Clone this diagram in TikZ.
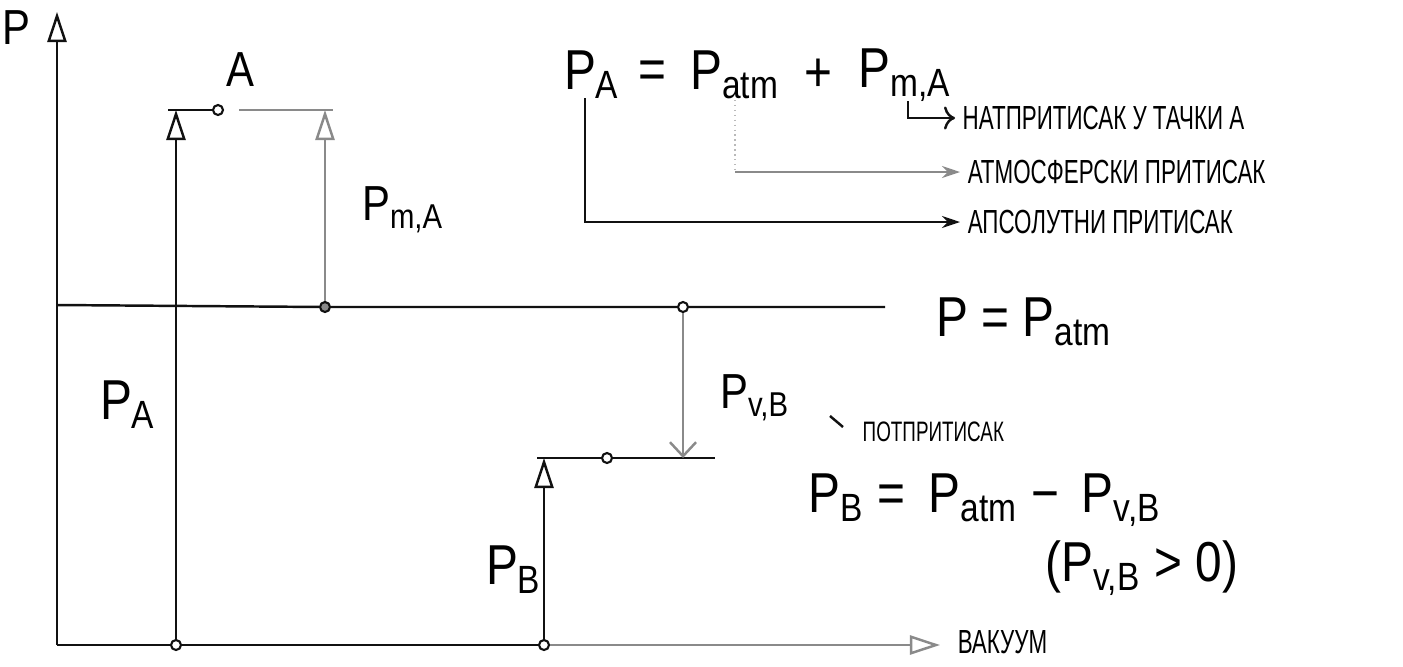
\documentclass[tikz,border=0pt]{standalone}
\usepackage{fontspec}
\setmainfont{Liberation Sans}
\newfontfamily\handfont[FakeStretch=0.67]{Liberation Sans}
\newfontfamily\formfont[FakeStretch=0.85]{Liberation Sans}
\usetikzlibrary{arrows.meta,positioning}
\definecolor{inkBlack}{HTML}{111111}
\definecolor{inkGrey}{HTML}{8A8A8A}
\tikzset{
  solidline/.style={draw=inkBlack,line width=0.7pt},
  faintline/.style={draw=inkGrey,line width=0.7pt},
  hollowarrow/.style={-{Triangle[open,length=3mm,width=1.9mm,line width=0.7pt]}},
  barbarrow/.style={-{Straight Barb[length=1.4mm,width=2.6mm]}},
  notearrow/.style={-{Stealth[length=1.8mm,width=1.2mm]},line width=0.6pt},
  marker/.style={circle,draw=inkBlack,fill=white,line width=0.6pt,inner sep=0pt,minimum size=1mm},
  bigtext/.style={font=\formfont\fontsize{16}{18}\selectfont,inner sep=1pt},
  midtext/.style={font=\formfont\fontsize{14}{16}\selectfont,inner sep=1pt},
  notetext/.style={font=\handfont\fontsize{9.5}{11}\selectfont,anchor=west,inner sep=2pt},
  smallnote/.style={notetext,font=\handfont\fontsize{8}{9}\selectfont}
}
\begin{document}
\begin{tikzpicture}[x=0.01cm,y=-0.01cm]
  \useasboundingbox (0,0) rectangle (1403,666);
  % axes
  \coordinate (orig) at (57,645);
  \coordinate (ytip) at (57,12);
  \coordinate (xtip) at (940,645);
  \node[midtext] (plabel) at (16,28) {P};
  \draw[solidline,hollowarrow] (orig) -- (ytip);
  \node[marker] (baseA) at (176,645) {};
  \node[marker] (baseB) at (544,645) {};
  \draw[solidline] (orig) -- (baseA) -- (baseB);
  \draw[faintline,hollowarrow] (baseB) -- (xtip);
  \node[notetext] (vac) at (950,642) {ВАКУУМ};
  % atmospheric level
  \node[marker,fill=inkGrey] (atmA) at (325,307) {};
  \node[marker] (atmB) at (683,307) {};
  \coordinate (atmL) at (57,305);
  \coordinate (atmR) at (885,307);
  \draw[solidline] (atmL) -- (atmA) -- (atmB) -- (atmR);
  \node[bigtext,anchor=west] (patmeq) at (932,322) {P = P\textsubscript{atm}};
  % point A
  \node[marker] (ptA) at (218,110) {};
  \coordinate (aL) at (168,110);
  \coordinate (aR) at (333,110);
  \draw[solidline] (aL) -- (ptA);
  \draw[faintline,shorten <=0.15cm] (ptA) -- (aR);
  \node[midtext] (alabel) at (240,70) {A};
  \draw[solidline,hollowarrow] (baseA) -- (baseA |- aL);
  \draw[faintline,hollowarrow] (atmA) -- (atmA |- aR);
  \node[midtext] (pmA) at (403,210) {P\textsubscript{m,A}};
  \node[bigtext] (paL) at (128,405) {P\textsubscript{A}};
  % point B
  \coordinate (bL) at (537,458);
  \coordinate (bR) at (715,458);
  \node[marker] (ptB) at (607,458) {};
  \draw[solidline] (bL) -- (ptB) -- (bR);
  \draw[solidline,hollowarrow] (baseB) -- (baseB |- bL);
  \draw[faintline,barbarrow] (atmB) -- (atmB |- bR);
  \node[bigtext] (pbL) at (514,570) {P\textsubscript{B}};
  \node[midtext] (pvB) at (755,398) {P\textsubscript{v,B}};
  \node[smallnote] (potp) at (855,432) {ПОТПРИТИСАК};
  \draw[solidline] ([shift={(-25,-16)}]potp.west) -- ([shift={(-12,-5)}]potp.west);
  \node[bigtext] (fpB) at (985,500) {P\textsubscript{B} = \,P\textsubscript{atm} − \,P\textsubscript{v,B}};
  \node[bigtext] (fcond) at (1142,568) {(P\textsubscript{v,B} > 0)};
  % top formula
  \node[bigtext] (fPA) at (592,75) {P\textsubscript{A}};
  \node[bigtext] (fEq) at (652,75) {=};
  \node[bigtext] (fPatm) at (735,75) {P\textsubscript{atm}};
  \node[bigtext] (fPlus) at (818,75) {+};
  \node[bigtext] (fPmA) at (905,75) {P\textsubscript{m,A}};
  \node[notetext] (natp) at (955,118) {НАТПРИТИСАК У ТАЧКИ А};
  \node[notetext] (atms) at (960,172) {АТМОСФЕРСКИ ПРИТИСАК};
  \node[notetext] (apso) at (960,222) {АПСОЛУТНИ ПРИТИСАК};
  \coordinate (pmAfoot) at (908,101);
  \coordinate (atmFoot) at (735,100);
  \coordinate (paFoot) at (585,98);
  \draw[solidline,-{To}] (pmAfoot) |- (natp.west);
  \draw[inkGrey!60,densely dotted] (atmFoot) -- (atmFoot |- atms.west);
  \draw[faintline,notearrow] (atmFoot |- atms.west) -- (atms.west);
  \draw[solidline,notearrow] (paFoot) |- (apso.west);
\end{tikzpicture}
\end{document}
